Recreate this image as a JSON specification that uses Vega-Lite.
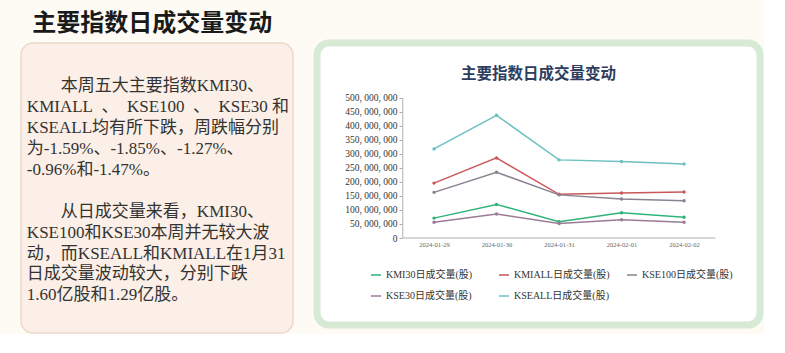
{
  "$schema": "https://vega.github.io/schema/vega-lite/v6.json",
  "background": "#fdfbf4",
  "padding": {"left": 20, "top": 11, "right": 0, "bottom": 0},
  "spacing": 19,
  "title": {"text": "主要指数日成交量变动", "anchor": "start", "frame": "bounds", "dx": 12, "offset": 4, "fontSize": 24, "fontWeight": "bold", "font": "Noto Sans CJK SC", "color": "#1a1a1a"},
  "config": {"view": {"stroke": null}, "font": "Liberation Serif, Noto Sans CJK SC"},
  "resolve": {"scale": {"color": "independent"}, "legend": {"color": "independent"}},
  "hconcat": [
    {
      "width": 272,
      "height": 290,
      "view": {"fill": "#fbefe7", "stroke": "#ecd9cb", "strokeWidth": 1.5, "cornerRadius": 12},
      "data": {"values": [
        {"row": 1, "text": "\u200b\u3000\u3000本周五大主要指数KMI30、"},
        {"row": 2, "text": "KMIALL\u2002、\u2002KSE100\u2002、\u2002KSE30\u2005和"},
        {"row": 3, "text": "KSEALL均有所下跌，周跌幅分别"},
        {"row": 4, "text": "为-1.59%、-1.85%、-1.27%、"},
        {"row": 5, "text": "-0.96%和-1.47%。"},
        {"row": 7, "text": "\u200b\u3000\u3000从日成交量来看，KMI30、"},
        {"row": 8, "text": "KSE100和KSE30本周并无较大波"},
        {"row": 9, "text": "动，而KSEALL和KMIALL在1月31"},
        {"row": 10, "text": "日成交量波动较大，分别下跌"},
        {"row": 11, "text": "1.60亿股和1.29亿股。"}
      ]},
      "mark": {"type": "text", "align": "left", "baseline": "middle", "font": "Liberation Serif, Noto Sans CJK SC", "fontSize": 17, "color": "#333333"},
      "encoding": {
        "x": {"datum": 0, "type": "quantitative", "scale": {"domain": [-0.022, 1], "nice": false, "zero": false}, "axis": null},
        "y": {"field": "row", "type": "quantitative", "scale": {"domain": [-1.072, 12.8], "reverse": true, "nice": false, "zero": false}, "axis": null},
        "text": {"field": "text"}
      }
    },
    {
      "width": 443,
      "height": 282,
      "view": {"fill": "#ffffff", "stroke": "#d6ead6", "strokeWidth": 7, "cornerRadius": 12},
      "title": {"text": "主要指数日成交量变动", "anchor": "middle", "frame": "group", "offset": -39, "fontSize": 15.5, "fontWeight": "bold", "color": "#2e3d5e", "font": "Noto Sans CJK SC"},
      "encoding": {
        "x": {"field": "date", "type": "temporal",
          "scale": {"type": "utc", "domain": [
            {"year": 2024, "month": 1, "date": 27, "hours": 3, "minutes": 4, "utc": true},
            {"year": 2024, "month": 2, "date": 3, "hours": 5, "minutes": 10, "utc": true}
          ]},
          "axis": {"title": null, "values": [
            {"year": 2024, "month": 1, "date": 29, "utc": true},
            {"year": 2024, "month": 1, "date": 30, "utc": true},
            {"year": 2024, "month": 1, "date": 31, "utc": true},
            {"year": 2024, "month": 2, "date": 1, "utc": true},
            {"year": 2024, "month": 2, "date": 2, "utc": true}
          ], "format": "%Y-%m-%d", "labelFontSize": 6.5, "labelColor": "#666", "labelFont": "Liberation Serif", "ticks": false, "domain": false, "grid": false, "offset": -87, "labelPadding": 3, "labelOverlap": false}},
        "y": {"field": "value", "type": "quantitative",
          "scale": {"domain": [-310700000, 696400000], "nice": false, "zero": false},
          "axis": {"title": null, "values": [0, 50000000, 100000000, 150000000, 200000000, 250000000, 300000000, 350000000, 400000000, 450000000, 500000000],
            "labelExpr": "replace(format(datum.value, ','), regexp(',', 'g'), ', ')",
            "labelFontSize": 9.5, "labelFont": "Liberation Serif", "labelColor": "#333", "domain": false, "ticks": true, "tickSize": 3, "tickColor": "#aaa", "grid": false, "offset": -85, "labelPadding": 2, "labelOverlap": false, "labelBound": false}}
      },
      "layer": [
        {
          "data": {"values": [
            {"date": "2024-01-28T12:00:00Z", "date2": "2024-02-02T12:00:00Z", "value": 0, "value2": 0},
            {"date": "2024-01-28T12:00:00Z", "date2": "2024-01-28T12:00:00Z", "value": 0, "value2": 500000000}
          ]},
          "mark": {"type": "rule", "color": "#b0b0b0", "strokeWidth": 1},
          "encoding": {
            "x2": {"field": "date2"},
            "y2": {"field": "value2"}
          }
        },
        {
          "data": {"values": [
            {"date": "2024-01-29", "series": "KMI30日成交量(股)", "value": 71000000},
            {"date": "2024-01-30", "series": "KMI30日成交量(股)", "value": 120000000},
            {"date": "2024-01-31", "series": "KMI30日成交量(股)", "value": 58000000},
            {"date": "2024-02-01", "series": "KMI30日成交量(股)", "value": 90000000},
            {"date": "2024-02-02", "series": "KMI30日成交量(股)", "value": 74000000},
            {"date": "2024-01-29", "series": "KMIALL日成交量(股)", "value": 196000000},
            {"date": "2024-01-30", "series": "KMIALL日成交量(股)", "value": 286000000},
            {"date": "2024-01-31", "series": "KMIALL日成交量(股)", "value": 156000000},
            {"date": "2024-02-01", "series": "KMIALL日成交量(股)", "value": 161000000},
            {"date": "2024-02-02", "series": "KMIALL日成交量(股)", "value": 164000000},
            {"date": "2024-01-29", "series": "KSE100日成交量(股)", "value": 163000000},
            {"date": "2024-01-30", "series": "KSE100日成交量(股)", "value": 235000000},
            {"date": "2024-01-31", "series": "KSE100日成交量(股)", "value": 154000000},
            {"date": "2024-02-01", "series": "KSE100日成交量(股)", "value": 139000000},
            {"date": "2024-02-02", "series": "KSE100日成交量(股)", "value": 133000000},
            {"date": "2024-01-29", "series": "KSE30日成交量(股)", "value": 56000000},
            {"date": "2024-01-30", "series": "KSE30日成交量(股)", "value": 86000000},
            {"date": "2024-01-31", "series": "KSE30日成交量(股)", "value": 52000000},
            {"date": "2024-02-01", "series": "KSE30日成交量(股)", "value": 65000000},
            {"date": "2024-02-02", "series": "KSE30日成交量(股)", "value": 56000000},
            {"date": "2024-01-29", "series": "KSEALL日成交量(股)", "value": 318000000},
            {"date": "2024-01-30", "series": "KSEALL日成交量(股)", "value": 438000000},
            {"date": "2024-01-31", "series": "KSEALL日成交量(股)", "value": 279000000},
            {"date": "2024-02-01", "series": "KSEALL日成交量(股)", "value": 273000000},
            {"date": "2024-02-02", "series": "KSEALL日成交量(股)", "value": 264000000}
          ]},
          "mark": {"type": "line", "strokeWidth": 1.5, "point": {"filled": true, "size": 12}},
          "encoding": {
            "color": {"field": "series", "type": "nominal",
              "scale": {"domain": ["KMI30日成交量(股)", "KMIALL日成交量(股)", "KSE100日成交量(股)", "KSE30日成交量(股)", "KSEALL日成交量(股)"],
                        "range": ["#2fb37a", "#c8585a", "#8a8290", "#9c7b98", "#6cc0c0"]},
              "legend": {"orient": "none", "legendX": 53, "legendY": 226, "direction": "horizontal", "columns": 3, "gridAlign": "all", "columnPadding": 14, "rowPadding": 10, "padding": 0, "title": null, "symbolType": "stroke", "symbolStrokeWidth": 1.5, "symbolSize": 100, "labelFont": "Liberation Serif, Noto Sans CJK SC", "labelFontSize": 10, "labelColor": "#333", "labelLimit": 200}}
          }
        }
      ]
    }
  ]
}
